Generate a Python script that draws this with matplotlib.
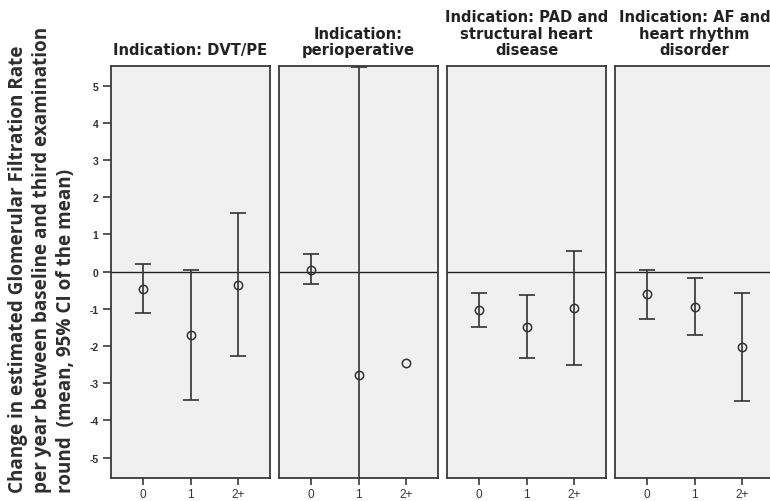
import matplotlib
matplotlib.use("Agg")
import matplotlib.pyplot as plt
import numpy as np

# eGFR change per year by indication and number of bleeding events
PANEL_TITLES = [
    "Indication: DVT/PE",
    "Indication:\nperioperative",
    "Indication: PAD and\nstructural heart\ndisease",
    "Indication: AF and\nheart rhythm\ndisorder",
]
CATEGORIES = ["0", "1", "2+"]

MEANS = [
    [-0.46, -1.70, -0.36],
    [0.05, -2.78, -2.45],
    [-1.04, -1.50, -0.98],
    [-0.61, -0.94, -2.03],
]
CI_UPPER = [
    [0.21, 0.05, 1.57],
    [0.47, 5.50, np.nan],
    [-0.58, -0.64, 0.56],
    [0.05, -0.18, -0.58],
]
CI_LOWER = [
    [-1.12, -3.44, -2.28],
    [-0.33, -12.0, np.nan],
    [-1.50, -2.32, -2.50],
    [-1.27, -1.71, -3.49],
]

Y_LABEL = ("Change in estimated Glomerular Filtration Rate\n"
           "per year between baseline and third examination\n"
           "round  (mean, 95% CI of the mean)")

W, H = 770, 502
fig = plt.figure(figsize=(W / 100, H / 100), dpi=100)

left0, top_px, bottom_px = 111, 67, 479
pw, step = 159, 168
x = np.arange(len(CATEGORIES))
edge = "#3a3a3a"

for i, title in enumerate(PANEL_TITLES):
    left = left0 + i * step
    ax = fig.add_axes([left / W, 1 - bottom_px / H, pw / W, (bottom_px - top_px) / H])
    ax.set_facecolor("#f0f0f0")
    for sp in ax.spines.values():
        sp.set_color(edge)
        sp.set_linewidth(1.3)

    ax.axhline(0, color="#222222", lw=1.0, zorder=1)

    m = np.array(MEANS[i])
    up = np.array(CI_UPPER[i])
    lo = np.array(CI_LOWER[i])
    has_ci = ~np.isnan(up)
    ax.errorbar(x[has_ci], m[has_ci], yerr=[m[has_ci] - lo[has_ci], up[has_ci] - m[has_ci]],
                fmt="none", ecolor="#333333", elinewidth=1.2, capsize=5.5, capthick=1.2, zorder=2)
    ax.plot(x, m, "o", ms=6, mfc="none", mec="#333333", mew=1.1, zorder=3)

    ax.set_xlim(-0.68, 2.68)
    ax.set_ylim(-5.55, 5.53)
    ax.set_xticks(x)
    ax.set_xticklabels(CATEGORIES, fontsize=8.5, color="#333333", family="Liberation Sans")
    ax.tick_params(axis="x", length=5, width=1.2, color=edge, pad=2)
    if i == 0:
        ax.set_yticks(np.arange(-5, 6))
        ax.set_yticklabels([str(v) for v in range(-5, 6)], fontsize=7.5, fontweight="bold",
                           color="#333333", family="Liberation Sans")
        ax.tick_params(axis="y", length=6, width=1.2, color=edge, pad=3)
    else:
        ax.set_yticks([])

    ax.text((left + pw / 2) / W, 1 - 58 / H, title, transform=fig.transFigure,
            ha="center", va="bottom", ma="center", fontsize=10.6, fontweight="bold",
            family="DejaVu Sans", color="#222222", linespacing=1.12)

fig.text(8 / W, 1 - 493 / H, Y_LABEL, rotation=90, ha="left", va="bottom", ma="left",
         fontsize=13.6, fontweight="bold", family="Open Sans", color="#2e2e2e",
         linespacing=1.28)

plt.savefig("out.png", dpi=100)
plt.close()
